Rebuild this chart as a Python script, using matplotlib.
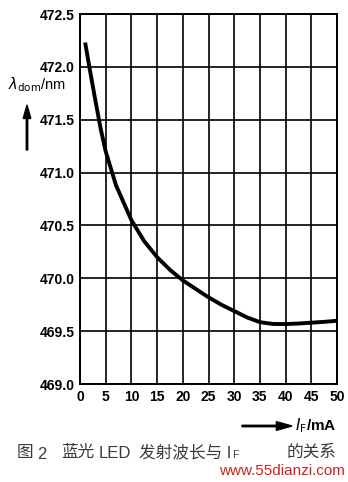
import numpy as np
import matplotlib
matplotlib.use('Agg')
import matplotlib.pyplot as plt
from matplotlib.patches import FancyArrow

# =============================================================================
# Data
# =============================================================================
# forward current I_F [mA]
i_f = [1, 2, 3, 4, 5, 7, 10, 12.5, 15, 17.5, 20, 22.5, 25, 27.5, 30,
       32.5, 35, 37.5, 40, 42.5, 45, 47.5, 50]
# dominant wavelength [nm]
lam_dom = [472.23, 471.95, 471.68, 471.42, 471.20, 470.88, 470.55, 470.35,
           470.20, 470.08, 469.98, 469.90, 469.82, 469.75, 469.69,
           469.63, 469.585, 469.568, 469.567, 469.572, 469.580, 469.588,
           469.598]
x_ticks = np.arange(0, 51, 5)
y_ticks = np.arange(469.0, 472.51, 0.5)

plt.rcParams['font.family'] = ['Liberation Sans', 'Noto Sans CJK SC',
                               'DejaVu Sans']
W, H = 348., 482.

fig = plt.figure(figsize=(3.48, 4.82), dpi=100)
ax = fig.add_axes([80 / W, 1 - 384 / H, 257 / W, 370 / H])

ax.plot(i_f, lam_dom, color='black', lw=2.8, solid_capstyle='butt')

ax.set_xlim(0, 50)
ax.set_ylim(469.0, 472.5)
ax.set_xticks(x_ticks)
ax.set_yticks(y_ticks)
ax.set_xticklabels(['%d' % v for v in x_ticks])
ax.set_yticklabels(['%.1f' % v for v in y_ticks])
ax.grid(True, color='black', lw=1.2)
for s in ax.spines.values():
    s.set_linewidth(1.4)
ax.tick_params(length=0, labelsize=10, pad=4)
for lab in ax.get_xticklabels() + ax.get_yticklabels():
    lab.set_fontweight('bold')

# y label with arrow
fig.text(8 / W, 1 - 85 / H, r'$\lambda_{\rm dom}$/nm', fontsize=10.5,
         ha='left', va='center')
fig.patches.append(FancyArrow(
    27 / W, 1 - 150 / H, 0, 45 / H, width=0.004, head_width=0.022,
    head_length=0.028, length_includes_head=True, color='black',
    transform=fig.transFigure))

# x label with arrow
fig.patches.append(FancyArrow(
    242 / W, 1 - 426 / H, 50 / W, 0, width=0.003, head_width=0.018,
    head_length=0.045, length_includes_head=True, color='black',
    transform=fig.transFigure))
fig.text(295 / W, 1 - 426 / H, r'$I_{\rm F}$/mA', fontsize=11,
         fontweight='bold', ha='left', va='center')

# caption, placed piece by piece (kept out of mathtext for the CJK font)
cap_y = 1 - 452 / H
cap_kw = dict(fontsize=12, color='#3a3a3a', ha='left', va='center')
fig.text(17 / W, cap_y, '图', **cap_kw)
fig.text(37 / W, cap_y - 0.006, '2', **cap_kw)
fig.text(61 / W, cap_y, '蓝光', **cap_kw)
fig.text(99 / W, cap_y - 0.004, 'LED', **cap_kw)
t_main = fig.text(139 / W, cap_y, '发射波长与 I', **cap_kw)
ax.annotate('F', xy=(1, 0.3), xycoords=t_main, xytext=(0.5, 0),
            textcoords='offset points', fontsize=7.5, color='#3a3a3a',
            ha='left', va='center')
fig.text(336 / W, cap_y, '的关系', fontsize=12, color='#3a3a3a',
         ha='right', va='center')
fig.text(345 / W, 1 - 471 / H, 'www.55dianzi.com', fontsize=11,
         color='#d02020', ha='right', va='center')

fig.savefig('out.png', dpi=100)
plt.close(fig)
